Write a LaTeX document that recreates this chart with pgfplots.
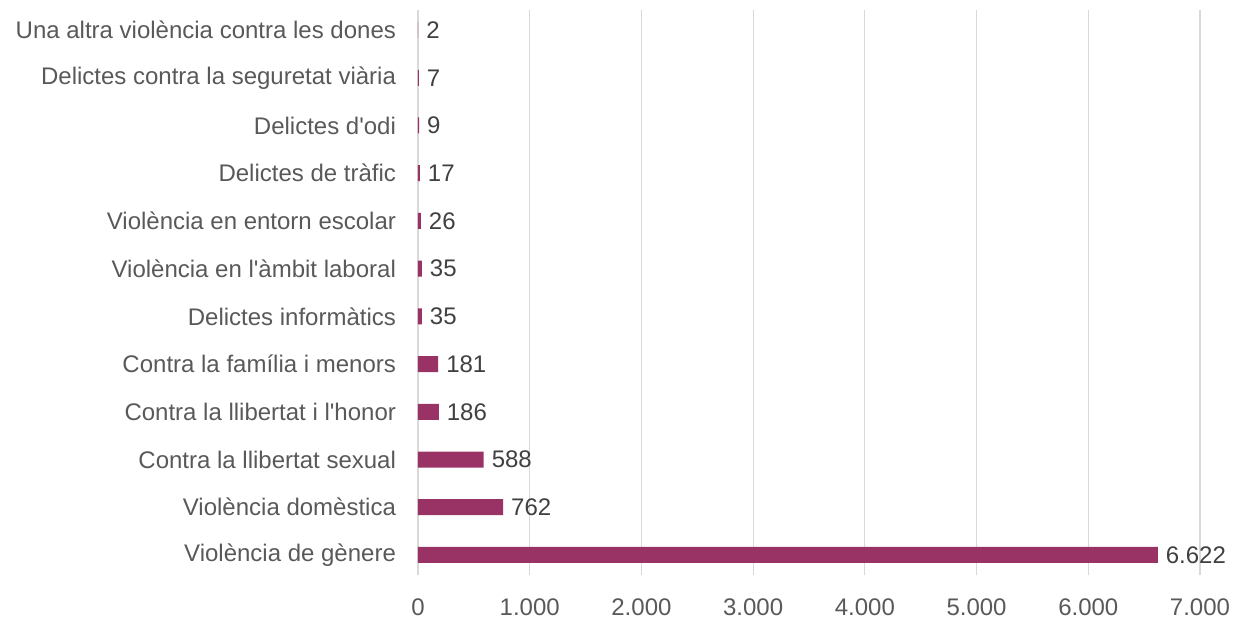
\documentclass[border=0pt]{standalone}
\usepackage{fontspec}
\setmainfont{Liberation Sans}[Ligatures=TeXOff]
\usepackage{pgfplots}
\pgfplotsset{compat=1.18}
\definecolor{barplum}{HTML}{993366}
\definecolor{gridgray}{HTML}{D9D9D9}
\definecolor{ticktext}{HTML}{595959}
\definecolor{labeltext}{HTML}{404040}

\begin{document}
\begin{tikzpicture}
\useasboundingbox (-209pt,-24pt) rectangle (409pt,287.5pt);
\begin{axis}[
  at={(0pt,0pt)}, anchor=south west,
  scale only axis,
  width=391pt, height=282.5pt,
  xbar, bar width=8pt,
  xmin=0, xmax=7000,
  ymin=-0.42, ymax=11.42,
  xtick={0,1000,...,7000},
  ytick={0,...,11},
  yticklabels={Violència de gènere, Violència domèstica, Contra la llibertat sexual,
    Contra la llibertat i l'honor, Contra la família i menors, Delictes informàtics,
    Violència en l'àmbit laboral, Violència en entorn escolar, Delictes de tràfic,
    Delictes d'odi, Delictes contra la seguretat viària, Una altra violència contra les dones},
  axis line style={draw=none},
  major tick length=0pt,
  xmajorgrids, grid style={gridgray, line width=0.6pt},
  /pgf/number format/.cd, use comma, 1000 sep={.}, assume math mode=true,
  /pgfplots/.cd,
  tick label style={font=\fontsize{12}{14}\selectfont, text=ticktext},
  xticklabel style={yshift=-8.5pt},
  yticklabel style={xshift=-7.5pt},
  nodes near coords,
  every node near coord/.append style={font=\fontsize{12}{14}\selectfont, text=labeltext, xshift=0.5pt},
]
\addplot[fill=barplum, draw=none] coordinates {
  (6622,0) (762,1) (588,2) (186,3) (181,4) (35,5)
  (35,6) (26,7) (17,8) (9,9) (7,10) (2,11)
};
\end{axis}
\end{tikzpicture}
\end{document}
